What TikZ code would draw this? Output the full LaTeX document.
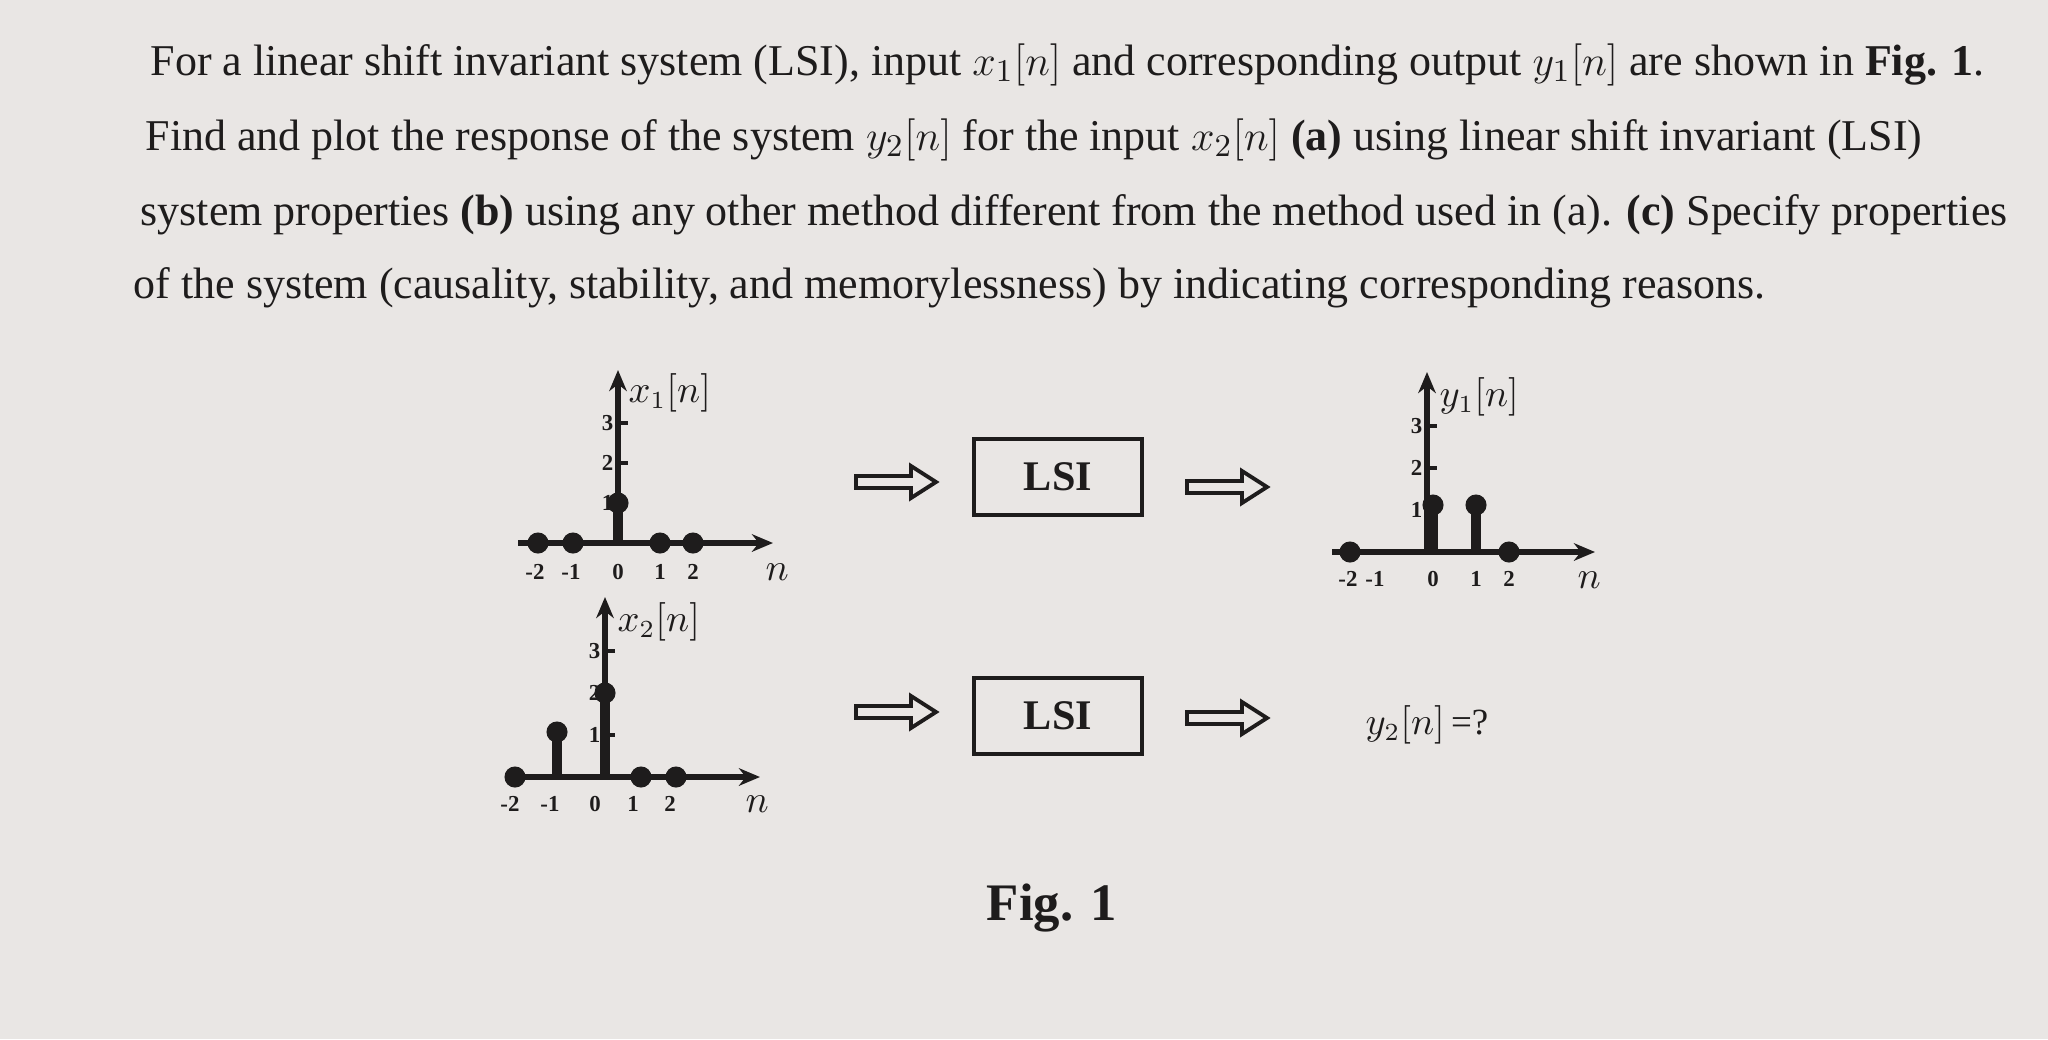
\documentclass[tikz,border=0pt]{standalone}
\usepackage{fontspec}
\setmainfont{Liberation Serif}
\usetikzlibrary{arrows.meta}
\definecolor{paper}{RGB}{233,230,228}
\definecolor{ink}{RGB}{30,28,28}
\tikzset{
 txt/.style={anchor=base west,inner sep=0,font=\fontsize{12.5}{15}\selectfont,text=ink},
 ax/.style={line width=1.8pt,draw=ink,-{Stealth[length=6pt,width=5pt]}},
 stem/.style={line width=2.8pt,draw=ink},
 dot/.style={circle,fill=ink,inner sep=0,minimum size=6pt},
 tk/.style={font=\bfseries\fontsize{6.5}{7}\selectfont,text=ink,inner sep=0},
 lab/.style={font=\fontsize{10.5}{12}\selectfont,text=ink,inner sep=0,anchor=west},
 hollow/.style={draw=ink,line width=1.1pt,line join=miter},
 lsibox/.style={draw=ink,line width=1.3pt,minimum width=1.68cm,minimum height=0.76cm,font=\bfseries\fontsize{12}{14}\selectfont,text=ink}
}
\newcommand{\harrowat}[1]{\draw[hollow] (#1) ++(-40,-6) -- ++(55,0) -- ++(0,-10) -- ++(25,16) -- ++(-25,16) -- ++(0,-10) -- ++(-55,0) -- cycle;}
\begin{document}
\begin{tikzpicture}[x=0.01cm,y=-0.01cm]
\fill[paper] (0,0) rectangle (2048,1039);
\useasboundingbox (0,0) rectangle (2048,1039);
% text
\node[txt] (l1) at (150,75) {For a linear shift invariant system (LSI), input $x_1[n]$ and corresponding output $y_1[n]$ are shown in \textbf{Fig. 1}.};
\node[txt] (l2) at (145,150) {Find and plot the response of the system $y_2[n]$ for the input $x_2[n]$ \textbf{(a)} using linear shift invariant (LSI)};
\node[txt] (l3) at (140,225) {system properties \textbf{(b)} using any other method different from the method used in (a). \textbf{(c)} Specify properties};
\node[txt] (l4) at (133,298) {of the system (causality, stability, and memorylessness) by indicating corresponding reasons.};

% ---- x1 plot
\begin{scope}[shift={(618,543)}]
\draw[ax] (-100,0) -- (155,0);
\draw[ax] (0,0) -- (0,-173);
\foreach \v in {1,2,3} {\draw[line width=1pt,ink] (0,-40*\v) -- (10,-40*\v); \node[tk,anchor=east] at (-4,-40*\v) {\v};}
\draw[stem] (0,0) -- (0,-40);
\node[dot] at (0,-40) {};
\foreach \p in {-80,-45,42,75} \node[dot] at (\p,0) {};
\foreach \p/\t in {-83/-2,-47/-1,0/0,42/1,75/2} \node[tk] at (\p,29) {\t};
\node[lab] at (10,-150) {$x_1[n]$};
\node[lab] at (147,29) {$n$};
\end{scope}

% ---- x2 plot
\begin{scope}[shift={(605,777)}]
\draw[ax] (-100,0) -- (155,0);
\draw[ax] (0,0) -- (0,-180);
\foreach \v in {1,2,3} {\draw[line width=1pt,ink] (0,-42*\v) -- (10,-42*\v); \node[tk,anchor=east] at (-4,-42*\v) {\v};}
\draw[stem] (0,0) -- (0,-84);
\node[dot] at (0,-84) {};
\draw[stem] (-48,0) -- (-48,-45);
\node[dot] at (-48,-45) {};
\foreach \p in {-90,36,71} \node[dot] at (\p,0) {};
\foreach \p/\t in {-95/-2,-55/-1,-10/0,28/1,65/2} \node[tk] at (\p,27) {\t};
\node[lab] at (12,-155) {$x_2[n]$};
\node[lab] at (140,27) {$n$};
\end{scope}

% ---- y1 plot
\begin{scope}[shift={(1427,552)}]
\draw[ax] (-95,0) -- (168,0);
\draw[ax] (0,0) -- (0,-180);
\foreach \v in {1,2,3} {\draw[line width=1pt,ink] (0,-42*\v) -- (10,-42*\v); \node[tk,anchor=east] at (-4,-42*\v) {\v};}
\draw[stem] (6,0) -- (6,-47);
\node[dot] at (6,-47) {};
\draw[stem] (49,0) -- (49,-47);
\node[dot] at (49,-47) {};
\foreach \p in {-77,82} \node[dot] at (\p,0) {};
\foreach \p/\t in {-79/-2,-52/-1,6/0,49/1,82/2} \node[tk] at (\p,27) {\t};
\node[lab] at (12,-155) {$y_1[n]$};
\node[lab] at (150,28) {$n$};
\end{scope}

% ---- blocks and arrows
\coordinate (a1) at (896,482);
\coordinate (a2) at (1227,487);
\coordinate (a3) at (896,712);
\coordinate (a4) at (1227,718);
\harrowat{a1}\harrowat{a2}\harrowat{a3}\harrowat{a4}
\node[lsibox] (b1) at (1058,477) {LSI};
\node[lsibox] (b2) at (1058,716) {LSI};
\node[lab] (y2) at (1365,725) {$y_2[n]$\,=?};
\node[font=\bfseries\fontsize{15}{17}\selectfont,text=ink] (fig) at (1052,908) {Fig. 1};
\end{tikzpicture}
\end{document}
